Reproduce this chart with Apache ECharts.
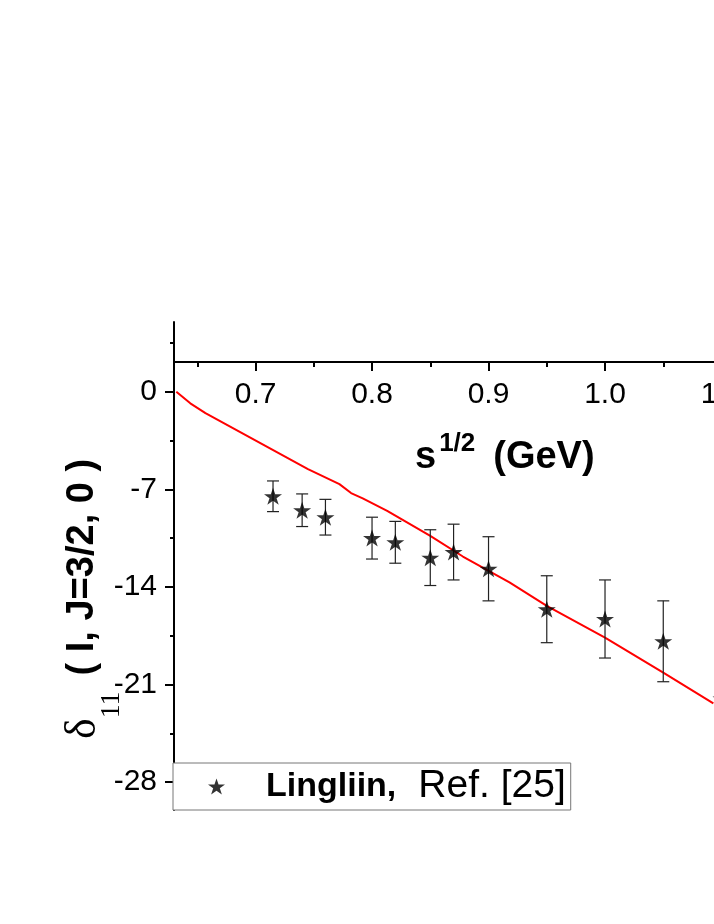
<!DOCTYPE html>
<html>
<head>
<meta charset="utf-8">
<script src="https://cdn.jsdelivr.net/npm/echarts@6/dist/echarts.min.js"></script>
<style>
  html, body { margin: 0; padding: 0; background: #fff; }
  #chart { width: 714px; height: 924px; }
</style>
</head>
<body>
<div id="chart"></div>
<script>
// data points (Lingliin, Ref. [25])
const sqrtS = [0.715, 0.74, 0.76, 0.80, 0.82, 0.85, 0.87, 0.90, 0.95, 1.00, 1.05, 1.10];
const delta = [-7.5, -8.5, -9.0, -10.5, -10.8, -11.9, -11.5, -12.7, -15.6, -16.3, -17.9, -22.0];
const deltaErr = [1.1, 1.17, 1.28, 1.5, 1.5, 2.0, 2.0, 2.3, 2.4, 2.8, 2.9, 2.9];

// model curve
const curveX = [0.632, 0.644, 0.657, 0.745, 0.772, 0.782, 0.792, 0.813, 0.850, 0.878, 0.918, 0.950, 1.000, 1.050, 1.093];
const curveY = [0.0, -0.83, -1.53, -5.55, -6.63, -7.27, -7.65, -8.54, -10.34, -11.82, -13.68, -15.36, -17.63, -20.14, -22.35];

// ticks
const xMajor = [0.7, 0.8, 0.9, 1.0, 1.1, 1.2];
const xMinor = [0.65, 0.75, 0.85, 0.95, 1.05, 1.15];
const yMajor = [0, -7, -14, -21, -28];
const yMinor = [3.5, -3.5, -10.5, -17.5, -24.5];

const STAR = 'path://M50,0 L61.8,35.1 L98.9,35.1 L69.1,56.7 L80.9,91.9 L50,70.3 L19.1,91.9 L30.9,56.7 L1.1,35.1 L38.2,35.1 Z';
const SANS = 'Liberation Sans, Arial, sans-serif';
const SERIF = 'Liberation Serif, Times New Roman, serif';

const chart = echarts.init(document.getElementById('chart'));

const xBase = {
  type: 'value', min: 0.63, max: 1.2, position: 'top', offset: -40,
  splitLine: { show: false }
};
const yBase = {
  type: 'value', min: -30, max: 5, position: 'left',
  splitLine: { show: false }
};

const option = {
  animation: false,
  backgroundColor: '#fff',
  title: {
    left: 415, top: 431, padding: 0,
    text: '{s|s}{sup|1/2}{g|(GeV)}',
    textStyle: {
      rich: {
        s: { fontFamily: SANS, fontWeight: 'bold', fontSize: 38, lineHeight: 54, color: '#000' },
        sup: { fontFamily: SANS, fontWeight: 'bold', fontSize: 26, lineHeight: 26, verticalAlign: 'top', color: '#000', padding: [0, 0, 0, 3] },
        g: { fontFamily: SANS, fontWeight: 'bold', fontSize: 38, lineHeight: 54, color: '#000', padding: [0, 0, 0, 18] }
      }
    }
  },
  grid: { left: 174, top: 322, width: 664, height: 488, containLabel: false, outerBoundsMode: 'none' },
  xAxis: [
    Object.assign({}, xBase, {
      axisLine: { onZero: false, lineStyle: { color: '#000', width: 2 } },
      axisTick: { inside: true, length: 9, customValues: xMajor, lineStyle: { color: '#000', width: 2 } },
      axisLabel: {
        inside: true, margin: 18, customValues: xMajor,
        formatter: v => v.toFixed(1),
        fontFamily: SANS, fontSize: 30, color: '#000'
      }
    }),
    Object.assign({}, xBase, {
      axisLine: { show: false, onZero: false },
      axisTick: { inside: true, length: 5, customValues: xMinor, lineStyle: { color: '#000', width: 2 } },
      axisLabel: { show: false }
    })
  ],
  yAxis: [
    Object.assign({}, yBase, {
      axisLine: { onZero: false, lineStyle: { color: '#000', width: 2 } },
      axisTick: { length: 9, customValues: yMajor, lineStyle: { color: '#000', width: 2 } },
      axisLabel: { margin: 17, customValues: yMajor, fontFamily: SANS, fontSize: 30, color: '#000' },
      name: '{d|δ}{sub|11}{t|( I, J=3/2, 0 )}',
      nameLocation: 'middle',
      nameRotate: 90,
      nameGap: 48,
      nameMoveOverlap: false,
      nameTextStyle: {
        padding: [0, 66, 0, 0],
        rich: {
          d: { fontFamily: SERIF, fontSize: 44, lineHeight: 86, color: '#000' },
          sub: { fontFamily: SERIF, fontSize: 28, lineHeight: 28, verticalAlign: 'bottom', color: '#000', padding: [0, 16, 0, 0] },
          t: { fontFamily: SANS, fontWeight: 'bold', fontSize: 38, lineHeight: 86, color: '#000' }
        }
      }
    }),
    Object.assign({}, yBase, {
      axisLine: { show: false, onZero: false },
      axisTick: { length: 4, customValues: yMinor, lineStyle: { color: '#000', width: 2 } },
      axisLabel: { show: false }
    })
  ],
  legend: {
    left: 173, top: 763,
    padding: [4, 5, 4, 35],
    backgroundColor: '#fff',
    borderColor: '#777',
    borderWidth: 1,
    borderRadius: 0,
    z: 10,
    itemWidth: 17, itemHeight: 16,
    data: [{ name: 'Lingliin', icon: STAR }],
    formatter: () => '{b|Lingliin,}{r|Ref. [25]}',
    textStyle: {
      rich: {
        b: { fontFamily: SANS, fontWeight: 'bold', fontSize: 34, lineHeight: 37, color: '#000', padding: [0, 0, 0, 36] },
        r: { fontFamily: SANS, fontSize: 39, lineHeight: 37, color: '#000', padding: [0, 0, 0, 22] }
      }
    }
  },
  series: [
    {
      name: 'curve',
      type: 'line',
      data: curveX.map((x, i) => [x, curveY[i]]),
      showSymbol: false,
      smooth: false,
      lineStyle: { color: '#ff0000', width: 2 },
      z: 2
    },
    {
      name: 'errors',
      type: 'custom',
      data: sqrtS.map((x, i) => [x, delta[i] - deltaErr[i], delta[i] + deltaErr[i]]),
      encode: { x: 0, y: [1, 2] },
      renderItem: (params, api) => {
        const lo = api.coord([api.value(0), api.value(1)]);
        const hi = api.coord([api.value(0), api.value(2)]);
        const hw = 6;
        const style = { stroke: '#222', lineWidth: 1.2 };
        return {
          type: 'group',
          children: [
            { type: 'line', shape: { x1: lo[0], y1: lo[1], x2: hi[0], y2: hi[1] }, style },
            { type: 'line', shape: { x1: lo[0] - hw, y1: lo[1], x2: lo[0] + hw, y2: lo[1] }, style },
            { type: 'line', shape: { x1: hi[0] - hw, y1: hi[1], x2: hi[0] + hw, y2: hi[1] }, style }
          ]
        };
      },
      z: 3
    },
    {
      name: 'Lingliin',
      type: 'scatter',
      data: sqrtS.map((x, i) => [x, delta[i]]),
      symbol: STAR,
      symbolSize: [18, 17],
      itemStyle: { color: '#000' },
      z: 4
    }
  ]
};

chart.setOption(option);
</script>
</body>
</html>
